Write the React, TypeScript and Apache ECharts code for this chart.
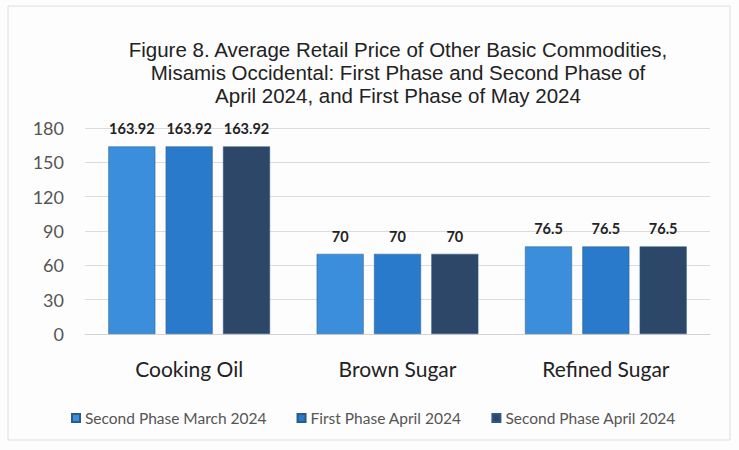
import React, { useEffect, useRef } from "react";
import * as echarts from "echarts";

const titleText =
  "Figure 8. Average Retail Price of Other Basic Commodities,\nMisamis Occidental: First Phase and Second Phase of\nApril 2024, and First Phase of May 2024";
const categories = ["Cooking Oil", "Brown Sugar", "Refined Sugar"];
const seriesNames = ["Second Phase March 2024", "First Phase April 2024", "Second Phase April 2024"];
const secondPhaseMarch = [163.92, 70, 76.5];
const firstPhaseApril = [163.92, 70, 76.5];
const secondPhaseApril = [163.92, 70, 76.5];
const yTicks = { min: 0, max: 180, interval: 30 };
const colors = ["#3a8edb", "#2a7acb", "#2c4768"];

export default function App() {
  const ref = useRef<HTMLDivElement>(null);
  useEffect(() => {
    if (!ref.current) return;
    const chart = echarts.init(ref.current, undefined, { renderer: "svg" });
    const values = [secondPhaseMarch, firstPhaseApril, secondPhaseApril];
    chart.setOption({
      animation: false,
      backgroundColor: "#fdfdfd",
      title: {
        text: titleText,
        left: 393,
        textAlign: "center",
        top: 33,
        textStyle: {
          fontFamily: "Liberation Sans",
          fontSize: 20.5,
          fontWeight: "normal",
          color: "#222",
          lineHeight: 23,
        },
      },
      legend: {
        left: 66,
        top: 405,
        itemWidth: 8,
        itemHeight: 8,
        itemGap: 30,
        icon: "rect",
        textStyle: { fontFamily: "Lato", fontSize: 15.5, color: "#555" },
        data: seriesNames,
      },
      grid: { left: 85, right: 29, top: 128, bottom: 116, containLabel: false },
      xAxis: {
        type: "category",
        data: categories,
        axisLine: { lineStyle: { color: "#d4d4d4" } },
        axisTick: { show: false },
        axisLabel: { fontFamily: "Lato", fontSize: 21, color: "#222", margin: 24 },
      },
      yAxis: {
        type: "value",
        min: yTicks.min,
        max: yTicks.max,
        interval: yTicks.interval,
        axisLine: { show: false },
        axisTick: { show: false },
        axisLabel: { fontFamily: "Lato", fontSize: 18, color: "#555", margin: 21 },
        splitLine: { lineStyle: { color: "#dcdcdc" } },
      },
      series: seriesNames.map((name, i) => ({
        name,
        type: "bar",
        data: values[i],
        barWidth: 47,
        barGap: "22%",
        itemStyle: { color: colors[i], borderColor: "#2a5a8a", borderWidth: 0.5 },
        label: {
          show: true,
          position: "top",
          distance: 10,
          fontFamily: "Lato",
          fontWeight: "bold",
          fontSize: 14.5,
          color: "#222",
        },
      })),
      graphic: [
        {
          type: "rect",
          shape: { x: 8, y: 6, width: 722, height: 434 },
          style: { fill: "none", stroke: "#dedede", lineWidth: 1 },
          silent: true,
        },
      ],
    });
    return () => chart.dispose();
  }, []);
  return (
    <div
      ref={ref}
      style={{ position: "fixed", left: 0, top: 0, width: 739, height: 450 }}
    />
  );
}
